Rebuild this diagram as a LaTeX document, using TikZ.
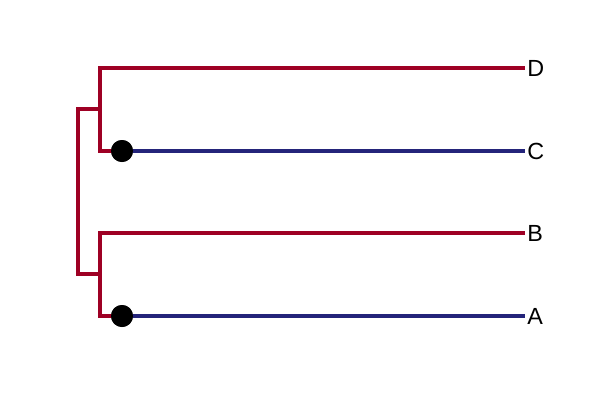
\documentclass[tikz,border=0pt]{standalone}
\usepackage{fontspec}
\setmainfont{Liberation Sans}
\definecolor{treered}{RGB}{158,0,36}
\definecolor{treeblue}{RGB}{36,36,122}
\begin{document}
\begin{tikzpicture}[x=0.75pt,y=-0.75pt,
  redline/.style={draw=treered,line width=2.7pt,line cap=rect},
  blueline/.style={draw=treeblue,line width=2.7pt},
  tipdot/.style={circle,fill=black,inner sep=0pt,minimum size=16.5pt},
  tiplabel/.style={anchor=west,inner sep=0pt,font=\fontsize{17.5}{19}\selectfont}]
\useasboundingbox (0,0) rectangle (600,400);
\coordinate (rtop) at (78,109);
\coordinate (rbot) at (78,274);
\coordinate (n1) at (100,109);
\coordinate (n2) at (100,274);
\coordinate (n1d) at (100,68);
\coordinate (n1c) at (100,151);
\coordinate (n2b) at (100,233);
\coordinate (n2a) at (100,316);
\node[tipdot] (dc) at (122,151) {};
\node[tipdot] (da) at (122,316) {};
\coordinate (tD) at (525,68);
\coordinate (tC) at (525,151);
\coordinate (tB) at (525,233);
\coordinate (tA) at (525,316);
\node[tiplabel] (lD) at (527,68) {D};
\node[tiplabel] (lC) at (527,151) {C};
\node[tiplabel] (lB) at (527,233) {B};
\node[tiplabel] (lA) at (527,316) {A};
\draw[redline] (rtop) -- (rbot);
\draw[redline] (rtop) -- (n1);
\draw[redline] (rbot) -- (n2);
\draw[redline] (n1d) -- (n1c);
\draw[redline] (n2b) -- (n2a);
\draw[redline,line cap=butt] (n1d) -- (tD);
\draw[redline,line cap=butt] (n2b) -- (tB);
\draw[redline,line cap=butt] (n1c) -- (dc.center);
\draw[redline,line cap=butt] (n2a) -- (da.center);
\draw[blueline] (dc.center) -- (tC);
\draw[blueline] (da.center) -- (tA);
\node[tipdot] at (dc) {};
\node[tipdot] at (da) {};
\end{tikzpicture}
\end{document}
